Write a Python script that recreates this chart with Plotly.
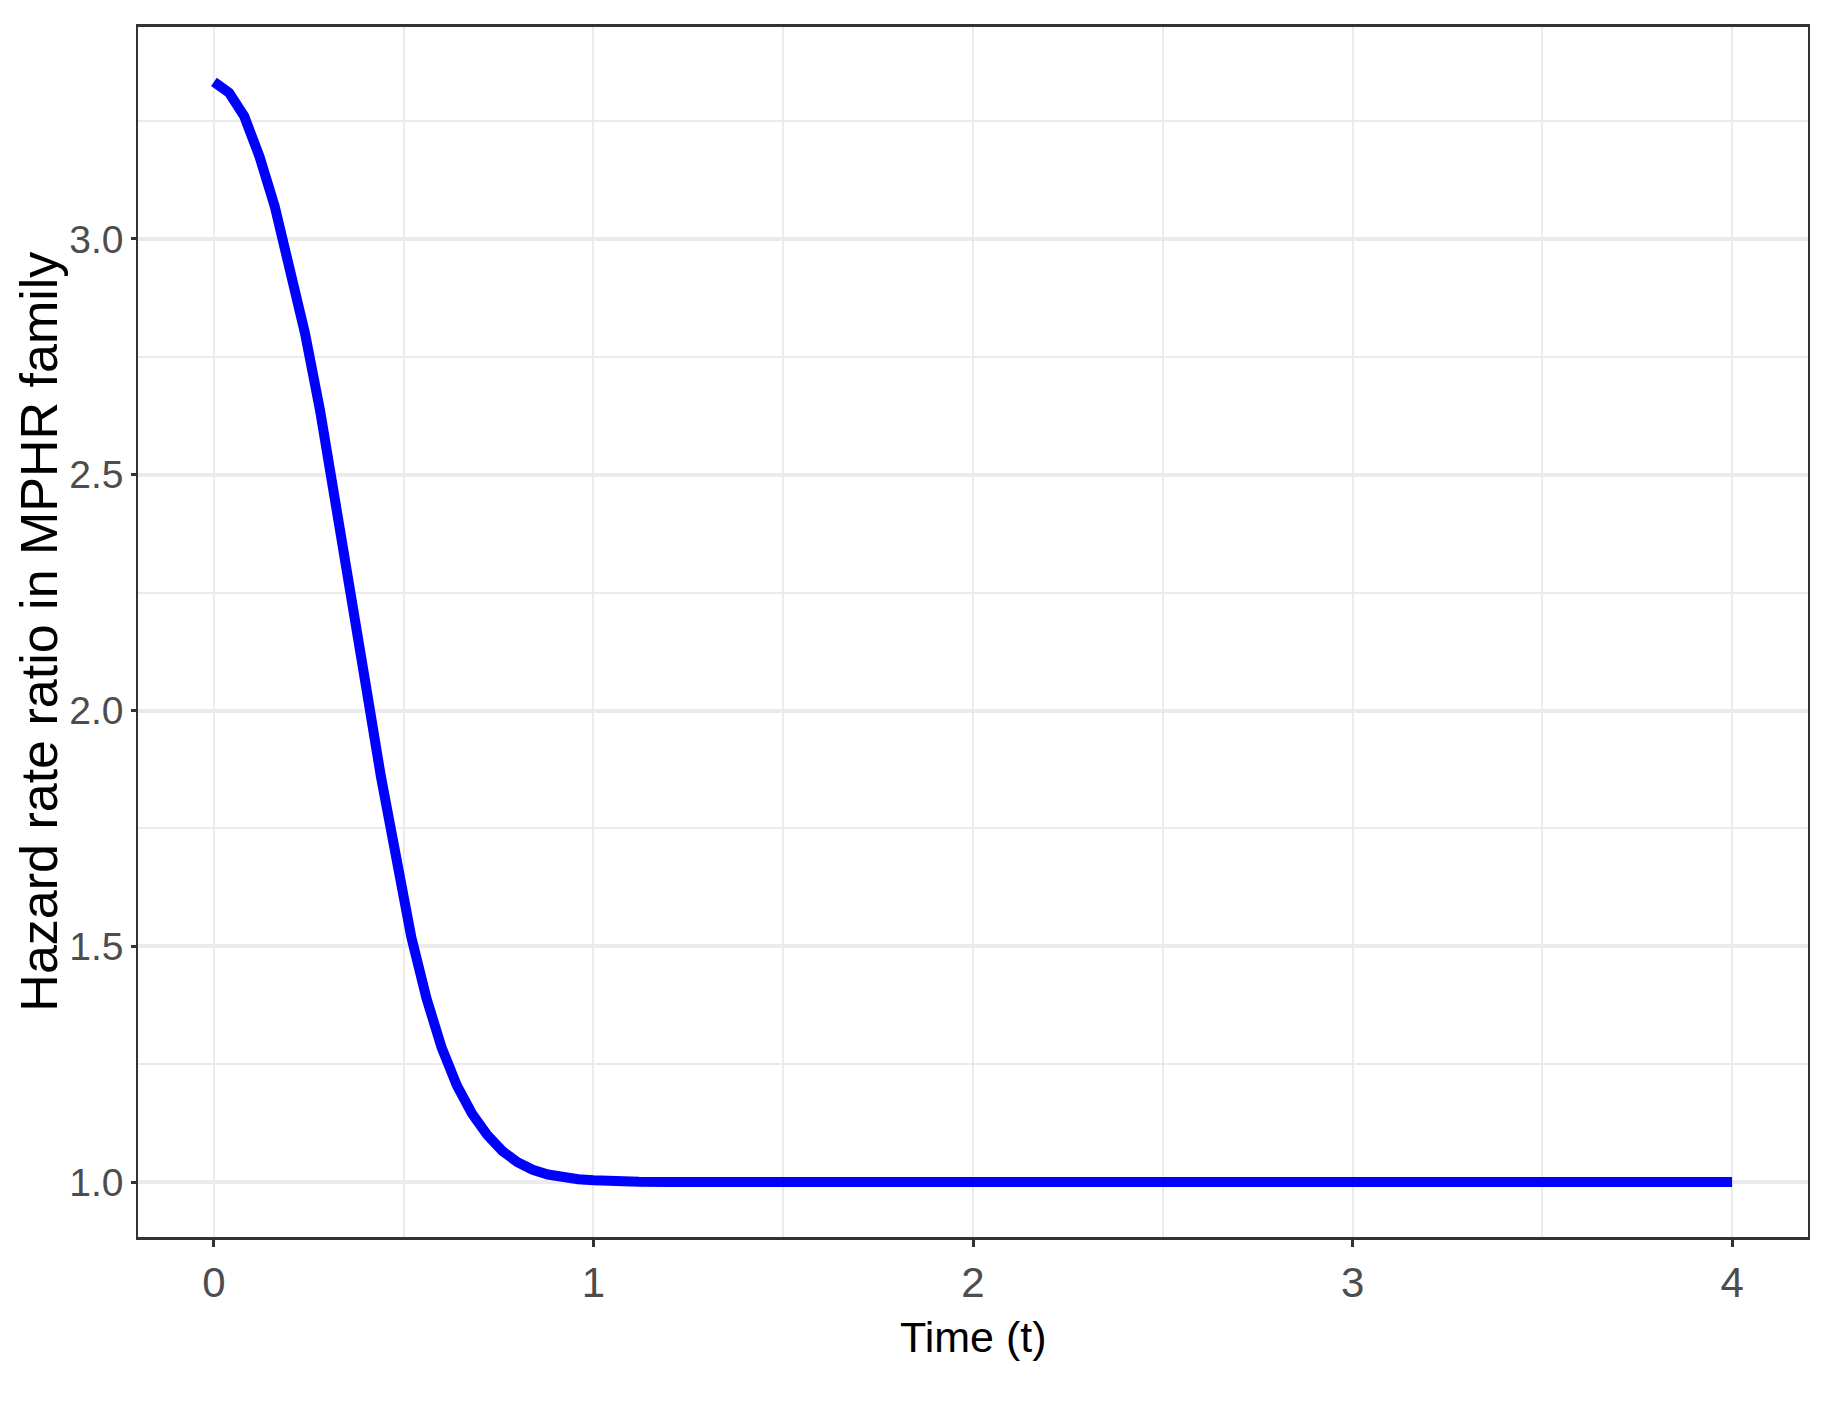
import plotly.graph_objects as go

# Data
time_t = [0.00, 0.04, 0.08, 0.12, 0.16, 0.20, 0.24, 0.28, 0.32, 0.36,
          0.40, 0.44, 0.48, 0.52, 0.56, 0.60, 0.64, 0.68, 0.72, 0.76,
          0.80, 0.84, 0.88, 0.92, 0.96, 1.00, 1.04, 1.08, 1.12, 1.20,
          1.30, 1.50, 2.00, 2.50, 3.00, 3.50, 4.00]
hazard_ratio = [3.333, 3.310, 3.260, 3.175, 3.070, 2.945, 2.800, 2.635, 2.450, 2.255,
                2.055, 1.860, 1.680, 1.520, 1.390, 1.285, 1.205, 1.145, 1.100, 1.066,
                1.042, 1.026, 1.016, 1.010, 1.006, 1.004, 1.002, 1.001, 1.0006, 1.0002,
                1.000, 1.000, 1.000, 1.000, 1.000, 1.000, 1.000]

x_ticks = [0, 1, 2, 3, 4]
x_tick_labels = ["0", "1", "2", "3", "4"]
y_ticks = [1.0, 1.5, 2.0, 2.5, 3.0]
y_tick_labels = ["1.0", "1.5", "2.0", "2.5", "3.0"]
x_title = "Time (t)"
y_title = "Hazard rate ratio in MPHR family"

font_family = "Liberation Sans, Arial, sans-serif"

fig = go.Figure()
fig.add_trace(go.Scatter(
    x=time_t, y=hazard_ratio, mode="lines",
    line=dict(color="#0000FF", width=10),
    showlegend=False, hoverinfo="skip",
))

fig.update_layout(
    width=1821, height=1388,
    margin=dict(l=130, r=21, t=19, b=159),
    paper_bgcolor="white", plot_bgcolor="white",
    showlegend=False,
    font=dict(family=font_family),
)

fig.update_xaxes(
    range=[-0.2, 4.2], automargin=False,
    tickmode="array", tickvals=x_ticks, ticktext=x_tick_labels,
    tickfont=dict(family=font_family, size=42, color="#4D4D4D"),
    ticks="outside", ticklen=7, tickwidth=2.5, tickcolor="#333333",
    showline=True, linecolor="#333333", linewidth=2.5, mirror=True,
    showgrid=True, gridcolor="#EBEBEB", gridwidth=2,
    minor=dict(tickvals=[0.5, 1.5, 2.5, 3.5], showgrid=True, gridcolor="#EBEBEB", gridwidth=1.5, ticks=""),
    zeroline=False,
)

fig.update_yaxes(
    range=[0.8835, 3.4495], automargin=False,
    tickmode="array", tickvals=y_ticks, ticktext=y_tick_labels,
    tickfont=dict(family=font_family, size=39, color="#4D4D4D"),
    ticks="outside", ticklen=5, tickwidth=3, tickcolor="#333333",
    showline=True, linecolor="#333333", linewidth=1.5, mirror=True,
    showgrid=True, gridcolor="#EBEBEB", gridwidth=3.5,
    minor=dict(tickvals=[1.25, 1.75, 2.25, 2.75, 3.25], showgrid=True, gridcolor="#EBEBEB", gridwidth=2, ticks=""),
    zeroline=False,
)

fig.add_annotation(
    text=x_title, xref="paper", yref="paper", x=0.5, y=-0.0826,
    xanchor="center", yanchor="middle", showarrow=False,
    font=dict(family=font_family, size=43, color="black"),
)
fig.add_annotation(
    text=y_title, xref="paper", yref="paper", x=-0.0595, y=0.5,
    xanchor="center", yanchor="middle", showarrow=False, textangle=-90,
    font=dict(family=font_family, size=52, color="black"),
)

fig.write_html("out.html")
